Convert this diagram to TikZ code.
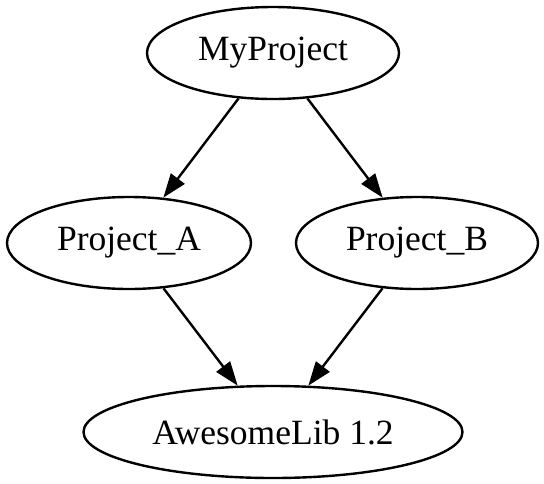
\documentclass[tikz,border=0pt]{standalone}
\usepackage{fontspec}
\setmainfont{Liberation Serif}
\usetikzlibrary{shapes.geometric,
  arrows.meta
}

\begin{document}
\begin{tikzpicture}[x=1pt,y=-1pt,
    proj/.style={draw,ellipse,line width=2.4,inner sep=0,minimum height=92,
      font=\fontsize{35.5}{40}\selectfont},
    dep/.style={-{Triangle[length=24pt,width=17pt]},line width=2.4}]
  \useasboundingbox (0, 0) rectangle (544, 483);

  \node[proj,minimum width=252] (myproject) at (273, 53) {MyProject};
  \node[proj,minimum width=244] (projA) at (129, 243) {Project\_A};
  \node[proj,minimum width=242] (projB) at (417, 243) {Project\_B};
  \node[proj,minimum width=379] (awesomelib) at (273, 432) {AwesomeLib 1.2};

  \draw[dep] (myproject) -- (projA);
  \draw[dep] (myproject) -- (projB);
  \draw[dep] (projA) -- (awesomelib);
  \draw[dep] (projB) -- (awesomelib);
\end{tikzpicture}
\end{document}
